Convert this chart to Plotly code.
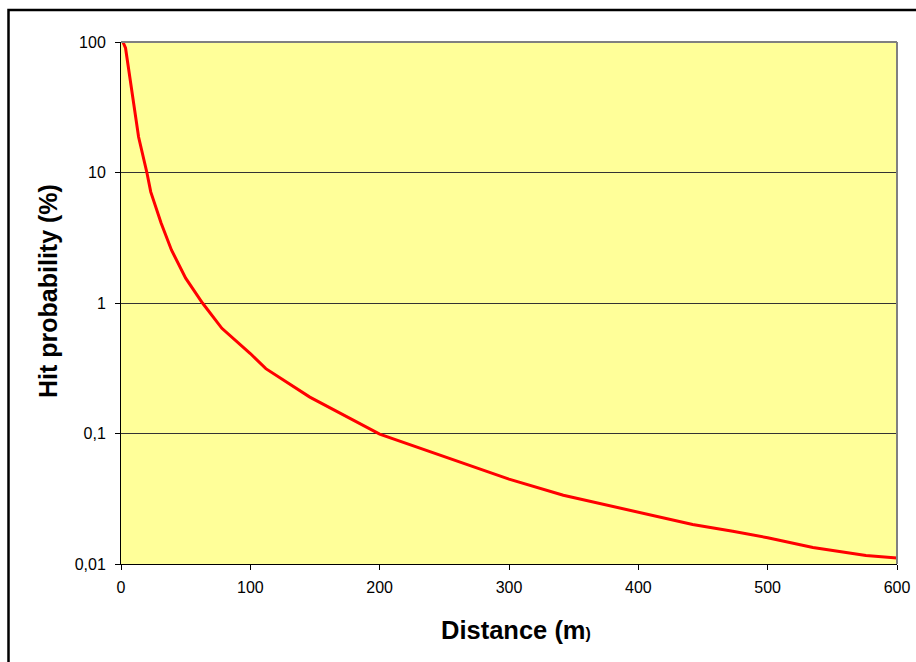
import plotly.graph_objects as go

distance_m = [1.5, 3.5, 4.5, 9, 13.6, 20, 23, 31, 39, 50, 63, 78, 100, 112, 146, 200,
              254, 278, 300, 342, 400, 442, 473, 500, 535, 576, 600]
hit_prob_pct = [100, 90, 77, 38, 18.7, 10, 7.1, 4.1, 2.55, 1.55, 1.0, 0.64, 0.41, 0.314,
                0.19, 0.099, 0.0645, 0.053, 0.0447, 0.0336, 0.0251, 0.0201, 0.0178,
                0.0159, 0.0134, 0.0116, 0.0111]

y_tickvals = [0.01, 0.1, 1, 10, 100]
y_ticktext = ["0,01", "0,1", "1", "10", "100"]
x_tickvals = [0, 100, 200, 300, 400, 500, 600]

W, H = 916, 662
ml, mr, mt, mb = 121, 19, 42, 98

fig = go.Figure()
fig.add_trace(go.Scatter(x=distance_m, y=hit_prob_pct, mode="lines",
                         line=dict(color="#FF0000", width=3), showlegend=False,
                         hoverinfo="skip"))

font = "Liberation Sans, Arial, sans-serif"
fig.update_layout(
    template="none",
    width=W, height=H,
    margin=dict(l=ml, r=mr, t=mt, b=mb, pad=0),
    paper_bgcolor="white",
    plot_bgcolor="#FFFF99",
    font=dict(family=font, size=16, color="black"),
    xaxis=dict(range=[0, 600], tickvals=x_tickvals, ticks="outside", ticklen=5,
               tickcolor="black", showline=True, linecolor="black", linewidth=1,
               showgrid=False, zeroline=False, tickfont=dict(size=16),
               ticklabelstandoff=4, automargin=False),
    yaxis=dict(type="log", range=[-2, 2], tickvals=y_tickvals, ticktext=y_ticktext,
               ticks="outside", ticklen=5, tickcolor="black", showline=True,
               linecolor="black", linewidth=1, showgrid=True, gridcolor="#333333",
               gridwidth=1, zeroline=False, tickfont=dict(size=16),
               ticklabelstandoff=6, automargin=False),
)

pw = W - ml - mr
ph = H - mt - mb
def px2x(p):
    return (p - ml) / pw
def py2y(p):
    return (H - mb - p) / ph

# axis titles
fig.add_annotation(xref="paper", yref="paper", x=px2x(516), y=py2y(630),
                   text="<b>Distance (m<span style='font-size:16px'>)</span></b>",
                   showarrow=False, font=dict(size=25.5, family=font),
                   xanchor="center", yanchor="middle")
fig.add_annotation(xref="paper", yref="paper", x=px2x(48), y=py2y(291),
                   text="<b>Hit probability (%)</b>", textangle=-90,
                   showarrow=False, font=dict(size=25, family=font),
                   xanchor="center", yanchor="middle")

# plot-area top/right gray border
fig.add_shape(type="line", xref="paper", yref="paper", x0=0, x1=1, y0=1, y1=1,
              line=dict(color="#808080", width=2))
fig.add_shape(type="line", xref="paper", yref="paper", x0=1, x1=1, y0=0, y1=1,
              line=dict(color="#808080", width=2))
# outer chart border (extends past the right and bottom edges)
fig.add_shape(type="rect", xref="paper", yref="paper",
              x0=px2x(8.5), x1=px2x(940), y0=py2y(690), y1=py2y(10),
              line=dict(color="black", width=2.5), fillcolor="rgba(0,0,0,0)", layer="below")

fig.write_html("out.html", config={"displayModeBar": False},
               post_script="document.body.style.margin='0px';")
